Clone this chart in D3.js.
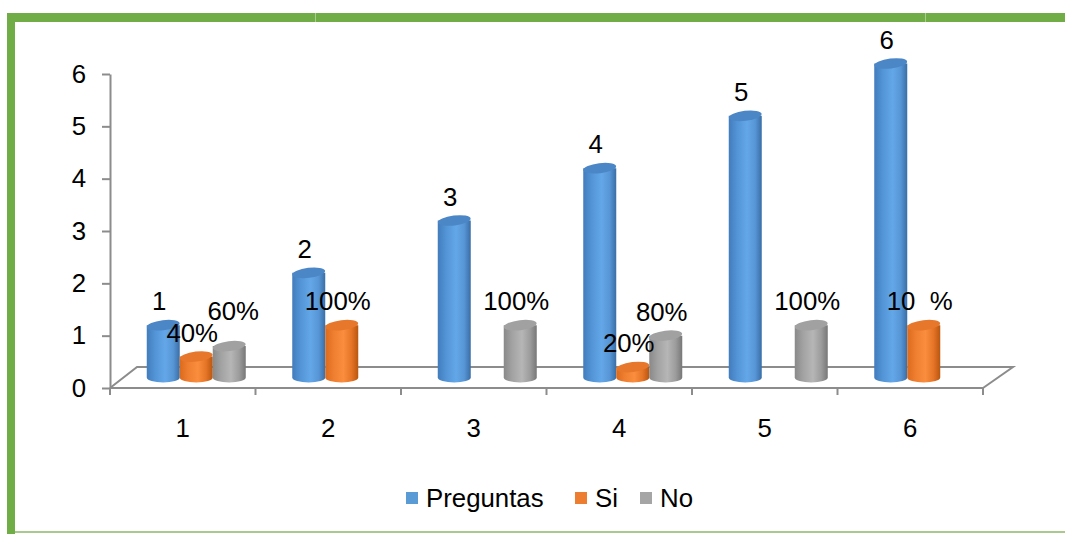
<!DOCTYPE html>
<html>
<head>
<meta charset="utf-8">
<script src="https://cdn.jsdelivr.net/npm/d3@7"></script>
<style>
  html, body { margin: 0; padding: 0; background: #fff; }
  svg { display: block; font-family: "Liberation Sans", Arial, sans-serif; }
</style>
</head>
<body>
<svg id="chart" width="1065" height="534"></svg>
<script>
// Chart data
const categories = ["1", "2", "3", "4", "5", "6"];
const seriesNames = ["Preguntas", "Si", "No"];
const preguntas = [1, 2, 3, 4, 5, 6];
const si = [0.4, 1, 0, 0.2, 0, 1];
const no = [0.6, 0, 1, 0.8, 1, 0];
const preguntasLabels = ["1", "2", "3", "4", "5", "6"];
const siLabels = ["40%", "100%", "", "20%", "", "100%"];
const noLabels = ["60%", "", "100%", "80%", "100%", ""];
const yTicks = [0, 1, 2, 3, 4, 5, 6];

const seriesValues = [preguntas, si, no];
const seriesLabels = [preguntasLabels, siLabels, noLabels];

const svg = d3.select("#chart");
const W = 1065, H = 534;
const FS = 25.8;

// Frame: thick green bar on top and left, thin light line at the bottom
const green = "#70ad47";
svg.append("rect").attr("x", 7).attr("y", 13).attr("width", W - 7).attr("height", 9).attr("fill", green);
svg.append("rect").attr("x", 7).attr("y", 13).attr("width", 8).attr("height", H - 13).attr("fill", green);
svg.append("rect").attr("x", 15).attr("y", 531).attr("width", W - 15).attr("height", 2).attr("fill", "#a9c98f");
[315, 925].forEach(sx => svg.append("rect").attr("x", sx).attr("y", 13).attr("width", 1).attr("height", 9).attr("fill", "#a6cf8a"));

// Scales
const plotLeft = 110, plotRight = 983;
const y = d3.scaleLinear().domain([0, 6]).range([388, 74]);
const x = d3.scaleBand().domain(categories).range([plotLeft, plotRight]).padding(0);
const bw = 33;
const inner = d3.scaleBand().domain(seriesNames).range([-bw * 1.5, bw * 1.5]);
const depth = { dx: 27, dy: -21 };         // floor depth
const mid = { dx: depth.dx / 2, dy: depth.dy / 2 }; // bars stand mid-depth

const axisColor = "#8c8c8c";

// Floor
const floor = svg.append("g").attr("fill", "none").attr("stroke", axisColor).attr("stroke-width", 2);
floor.append("path").attr("d", d3.line()([
  [plotLeft, y(0)], [plotLeft + depth.dx, y(0) + depth.dy],
  [plotRight + depth.dx + 3, y(0) + depth.dy], [plotRight, y(0)]
]));
floor.append("line").attr("x1", plotLeft).attr("x2", plotRight).attr("y1", y(0)).attr("y2", y(0));

// Y axis
const yAxis = svg.append("g").attr("transform", `translate(${plotLeft},0)`)
  .call(d3.axisLeft(y).tickValues(yTicks).tickFormat(d3.format("d")).tickSize(8).tickSizeOuter(0).tickPadding(16));
yAxis.select(".domain").attr("stroke", axisColor).attr("stroke-width", 2);
yAxis.selectAll(".tick line").attr("stroke", axisColor).attr("stroke-width", 2);
yAxis.selectAll(".tick text").attr("font-size", FS).attr("fill", "#000").attr("font-family", "Liberation Sans, Arial, sans-serif");

// X axis: tick marks on category boundaries, labels at centres
const xb = svg.append("g");
const bounds = categories.map(c => x(c)).concat([plotRight]);
xb.selectAll("line").data(bounds).join("line")
  .attr("x1", d => d).attr("x2", d => d).attr("y1", y(0)).attr("y2", y(0) + 7)
  .attr("stroke", axisColor).attr("stroke-width", 2);
xb.selectAll("text").data(categories).join("text")
  .attr("x", d => x(d) + x.bandwidth() / 2).attr("y", 437)
  .attr("text-anchor", "middle").attr("font-size", FS).attr("fill", "#000").text(d => d);

// Cylinder shading
const palettes = {
  Preguntas: { stops: ["#427cbc", "#5294d6", "#64a7e8", "#5796d6", "#3a6ea6"], top: "#4b86c6" },
  Si:        { stops: ["#dc6a1c", "#ef7e30", "#fa8e3e", "#e57426", "#b8560f"], top: "#e6772b" },
  No:        { stops: ["#898989", "#a2a2a2", "#b6b6b6", "#9c9c9c", "#777777"], top: "#a1a1a1" }
};
const defs = svg.append("defs");
seriesNames.forEach(s => {
  const g = defs.append("linearGradient").attr("id", "grad-" + s).attr("x1", 0).attr("x2", 1).attr("y1", 0).attr("y2", 0);
  const offs = [0, 0.25, 0.55, 0.8, 1];
  palettes[s].stops.forEach((c, i) => g.append("stop").attr("offset", offs[i]).attr("stop-color", c));
});

// Bars
const rx = bw / 2, ry = 5;
const bars = [];
categories.forEach((c, ci) => {
  seriesNames.forEach((s, si_) => {
    const v = seriesValues[si_][ci];
    const cx = x(c) + x.bandwidth() / 2 + mid.dx + inner(s) + inner.bandwidth() / 2;
    const yb = y(0) + mid.dy;
    const yt = y(v) + mid.dy;
    bars.push({ c, s, v, cx, yb, yt, label: seriesLabels[si_][ci] });
  });
});

const barG = svg.append("g");
bars.filter(b => b.v > 0).forEach(b => {
  const g = barG.append("g");
  const l = b.cx - rx, r = b.cx + rx;
  g.append("path")
    .attr("d", `M${l},${b.yt} L${l},${b.yb} A${rx},${ry} 0 0 0 ${r},${b.yb} L${r},${b.yt} Z`)
    .attr("fill", `url(#grad-${b.s})`);
  g.append("ellipse").attr("cx", b.cx).attr("cy", b.yt).attr("rx", rx).attr("ry", ry)
    .attr("transform", `rotate(-7,${b.cx},${b.yt})`)
    .attr("fill", palettes[b.s].top);
});

// Data labels, nudged up and right when they collide within a category
const lh = 22;
const labelG = svg.append("g").attr("font-size", FS).attr("fill", "#000").attr("text-anchor", "middle");
categories.forEach(c => {
  const placed = [];
  bars.filter(b => b.c === c && b.v > 0 && b.label).forEach(b => {
    const w = b.label.length === 1 ? 14 : b.label.length * 14 - 6;
    let cy = b.yt - 24;
    let lx = b.cx - 4;
    placed.forEach(p => {
      const ox = Math.abs(p.x - lx) < (p.w + w) / 2;
      const oy = Math.abs(p.y - cy) < lh;
      if (ox && oy) { cy = p.y - lh; lx += 8; }
    });
    placed.push({ x: lx, y: cy, w });
    const t = labelG.append("text").attr("x", lx).attr("y", cy + 9);
    if (b.c === "6" && b.s === "Si") {
      // the middle digit of this label is not printed
      t.append("tspan").text("10");
      t.append("tspan").attr("fill-opacity", 0).text("0");
      t.append("tspan").text("%");
    } else {
      t.text(b.label);
    }
  });
});

// Legend
const legendItems = [
  { s: "Preguntas", x: 406, color: "#5b9bd5" },
  { s: "Si", x: 575, color: "#ed7d31" },
  { s: "No", x: 640, color: "#a5a5a5" }
];
const lg = svg.append("g");
legendItems.forEach(it => {
  lg.append("rect").attr("x", it.x).attr("y", 492).attr("width", 12).attr("height", 12).attr("fill", it.color);
  lg.append("text").attr("x", it.x + 20).attr("y", 507).attr("font-size", FS).attr("fill", "#000").text(it.s);
});
</script>
</body>
</html>
